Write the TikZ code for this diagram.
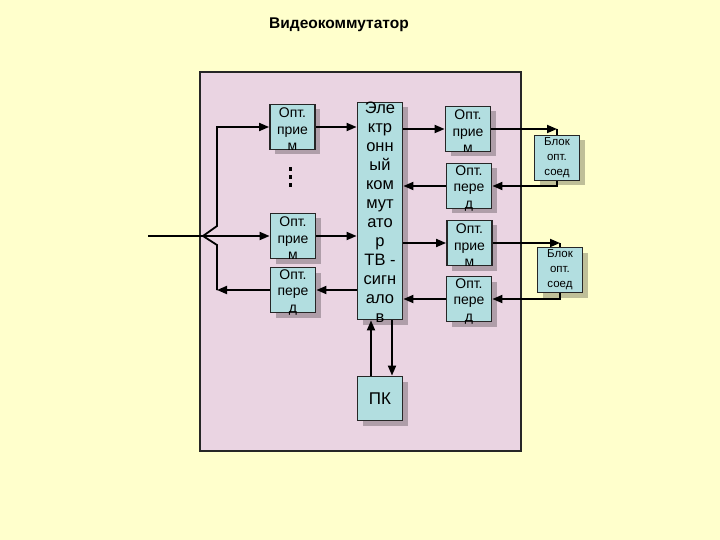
\documentclass[tikz,border=0pt]{standalone}
\usepackage{fontspec}
\setmainfont{Liberation Sans}
\usetikzlibrary{positioning, arrows.meta, shadows}
\usetikzlibrary{calc}

\definecolor{bgyellow}{RGB}{255,255,204}
\definecolor{panelpink}{RGB}{234,212,226}
\definecolor{boxcyan}{RGB}{178,222,224}

\begin{document}
\begin{tikzpicture}[
          x=1pt, y=-1pt,
          block/.style={rectangle, draw=black!85, line width=1.8pt, fill=boxcyan, minimum width=45pt, minimum height=45pt, inner sep=0pt,
            drop shadow={shadow xshift=5pt, shadow yshift=-5pt, opacity=0.25, fill=black}},
          txt/.style={align=center, inner sep=0pt, font=\fontsize{14}{16.5}\selectfont},
          arrow/.style={-{Triangle[length=10pt, width=8pt]}, line width=1.8pt},
          wire/.style={line width=1.8pt}
        ]
          % Background and panel
          \fill[bgyellow] (0,0) rectangle (720,540);
          \useasboundingbox (0,0) rectangle (720,540);
          \draw[line width=1.8pt, draw=black!85, fill=panelpink] (200,72) rectangle (521,451);
          \node[font=\bfseries\fontsize{15.5}{18}\selectfont] (title) at (339,25) {Видеокоммутатор};

          % Switch and PC
          \node[block, minimum height=217pt] (sw) at (380,211) {};
          \node[txt, font=\fontsize{16.5}{19}\selectfont] (swtxt) at (380,212.5) {Эле\\ктр\\онн\\ый\\ком\\мут\\ато\\р\\ТВ -\\сигн\\ало\\в};
          \node[block, minimum height=44pt] (pc) at (380,398.5) {};
          \node[txt, font=\fontsize{17}{19}\selectfont] (pctxt) at (pc) {ПК};

          % Left column
          \node[block] (rxA) at (292.5,127) {};
          \node[txt] (rxAtxt) at ($(rxA)+(0,2.5)$) {Опт.\\прие\\м};
          \node[block] (rxD) at (293,236) {};
          \node[txt] (rxDtxt) at ($(rxD)+(0,2.5)$) {Опт.\\прие\\м};
          \node[block] (txA) at (293,290) {};
          \node[txt] (txAtxt) at ($(txA)+(0,2.5)$) {Опт.\\пере\\д};
          \foreach \y in {169,177,185}
            \fill (288.5,\y-2) rectangle (291.5,\y+2);

          % Right column
          \node[block] (rxB) at (468,129) {};
          \node[txt] (rxBtxt) at ($(rxB)+(0,2.5)$) {Опт.\\прие\\м};
          \node[block] (txB) at (469,186) {};
          \node[txt] (txBtxt) at ($(txB)+(0,2.5)$) {Опт.\\пере\\д};
          \node[block] (rxC) at (469.5,243) {};
          \node[txt] (rxCtxt) at ($(rxC)+(0,2.5)$) {Опт.\\прие\\м};
          \node[block] (txC) at (469,299) {};
          \node[txt] (txCtxt) at ($(txC)+(0,2.5)$) {Опт.\\пере\\д};

          % Connector blocks
          \node[block] (blk1) at (557,158) {};
          \node[txt, font=\fontsize{11.5}{15}\selectfont] (blk1txt) at (blk1) {Блок\\опт.\\соед};
          \node[block] (blk2) at (560,270) {};
          \node[txt, font=\fontsize{11.5}{15}\selectfont] (blk2txt) at (blk2) {Блок\\опт.\\соед};

          % Input fork
          \coordinate (in) at (148,236);
          \coordinate (fork) at (203,236);
          \coordinate (fbot) at (217,290);
          \draw[wire] (in) -- (fork);
          \draw[arrow] (fork) -- (rxD.west);
          \draw[arrow] (fork) -- ++(14,-10) |- (rxA.west);
          \draw[arrow] (txA.west) -- (fbot);
          \draw[wire] (fbot) -- ++(0,-45) -- (fork);

          % Left arrows
          \draw[arrow] (rxA.east) -- (rxA.east -| sw.west);
          \draw[arrow] (rxD.east) -- (rxD.east -| sw.west);
          \draw[arrow] (sw.west |- txA.east) -- (txA.east);

          % Right arrows
          \draw[arrow] (sw.east |- rxB.west) -- (rxB.west);
          \draw[arrow] (rxB.east) -- (rxB.east -| blk1.north);
          \draw[wire] (rxB.east -| blk1.north) -- (blk1.north);
          \draw[arrow] (blk1.south) |- (txB.east);
          \draw[arrow] (txB.west) -- (txB.west -| sw.east);
          \draw[arrow] (sw.east |- rxC.west) -- (rxC.west);
          \draw[arrow] (rxC.east) -- (rxC.east -| blk2.north);
          \draw[wire] (rxC.east -| blk2.north) -- (blk2.north);
          \draw[arrow] (blk2.south) |- (txC.east);
          \draw[arrow] (txC.west) -- (txC.west -| sw.east);

          % Switch <-> PC
          \draw[arrow] ([xshift=-9pt]pc.north) -- ([xshift=-9pt]pc.north |- sw.south);
          \draw[arrow] ([xshift=12pt]sw.south) -- ([xshift=12pt]sw.south |- pc.north);
      \end{tikzpicture}
\end{document}
